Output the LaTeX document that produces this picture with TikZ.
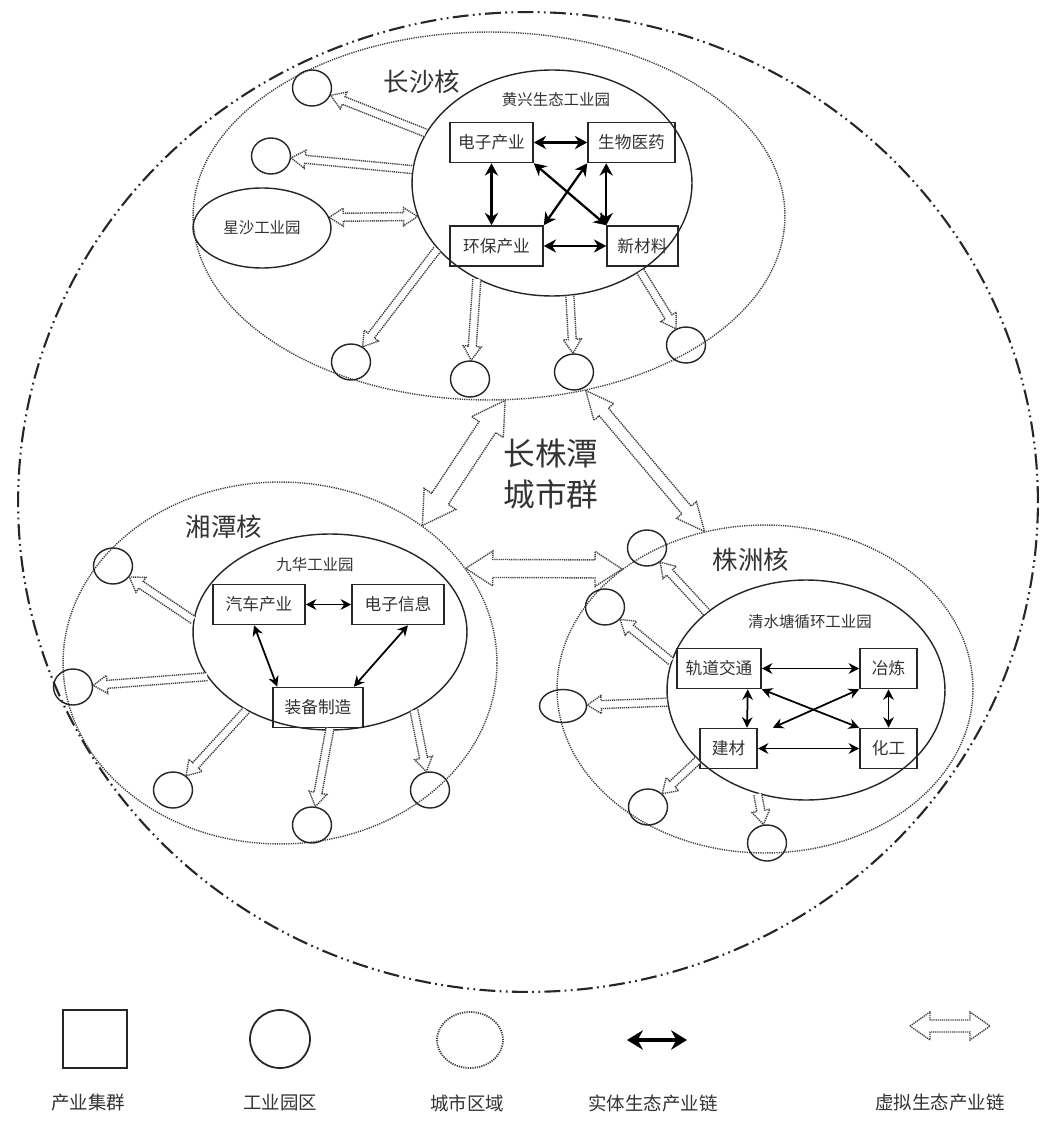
\documentclass[tikz,border=0pt]{standalone}
\usepackage{fontspec}
\setmainfont{Noto Sans CJK SC}
\usetikzlibrary{shapes.geometric,arrows.meta,calc}

% hollow arrow of the virtual chain
\newcommand{\vsetsize}[3]{\def\vsw{#1}\def\vhw{#2}\def\vhl{#3}}
\vsetsize{0.08cm}{0.18cm}{0.28cm}
\newcommand{\vlink}[2]{%
  \path (#1) -- (#2) coordinate[pos=0] (vA) coordinate[pos=1] (vB);
  \coordinate (vC) at ($(vB)!\vhl!(vA)$);
  \draw[virt] ($(vA)!\vsw!90:(vB)$) -- ($(vC)!\vsw!90:(vB)$) -- ($(vC)!\vhw!90:(vB)$) -- (vB)
    -- ($(vC)!\vhw!-90:(vB)$) -- ($(vC)!\vsw!-90:(vB)$) -- ($(vA)!\vsw!-90:(vB)$);
}
\newcommand{\vboth}[2]{%
  \path (#1) -- (#2) coordinate[pos=0] (vA) coordinate[pos=1] (vB);
  \coordinate (vC) at ($(vB)!\vhl!(vA)$);
  \coordinate (vD) at ($(vA)!\vhl!(vB)$);
  \draw[virt] (vA) -- ($(vD)!\vhw!90:(vB)$) -- ($(vD)!\vsw!90:(vB)$) -- ($(vC)!\vsw!90:(vB)$)
    -- ($(vC)!\vhw!90:(vB)$) -- (vB) -- ($(vC)!\vhw!-90:(vB)$) -- ($(vC)!\vsw!-90:(vB)$)
    -- ($(vD)!\vsw!-90:(vB)$) -- ($(vD)!\vhw!-90:(vB)$) -- cycle;
}

\begin{document}
\begin{tikzpicture}[x=0.02cm, y=-0.02cm,
    every node/.style={text=black!80},
    town/.style={ellipse, draw=black!75, line width=0.8pt, dash pattern=on 0.7pt off 0.6pt, inner sep=0pt},
    zone/.style={ellipse, draw=black!85, line width=0.8pt, inner sep=0pt},
    park/.style={ellipse, draw=black!85, line width=0.8pt, inner sep=0pt, minimum width=0.78cm, minimum height=0.72cm},
    trade/.style={draw=black!85, line width=0.9pt, inner sep=0pt, minimum height=0.8cm, font=\fontsize{9.5}{11}\selectfont},
    link/.style={line width=1.3pt, {Stealth[length=7pt,width=7.5pt]}-{Stealth[length=7pt,width=7.5pt]}},
    thinlink/.style={line width=1pt, {Stealth[length=6pt,width=6pt]}-{Stealth[length=6pt,width=6pt]}},
    virt/.style={draw=black!75, line width=0.8pt, dash pattern=on 0.7pt off 0.5pt, fill=white},
    corelab/.style={font=\fontsize{14.5}{15}\selectfont},
    zonelab/.style={font=\fontsize{8.8}{10}\selectfont},
    keylab/.style={font=\fontsize{10.5}{12}\selectfont}]
  \path[fill=white, use as bounding box] (0,0) rectangle (1045,1121);

  % city cluster
  \node[ellipse, draw=black!85, line width=1.2pt, inner sep=0pt, minimum width=20.4cm, minimum height=19.6cm,
    dash pattern=on 9pt off 2.5pt on 1pt off 2.5pt on 1pt off 2.5pt] (cluster) at (528,502) {};
  \node[align=center, font=\fontsize{18}{23}\selectfont] (clusterlab) at (551,474) {长株潭\\城市群};

  % Changsha
  \node[town, minimum width=11.84cm, minimum height=7.36cm] (cs) at (489,216) {};
  \node[zone, minimum width=5.6cm, minimum height=4.52cm] (hx) at (552,183) {};
  \node[corelab] (cslab) at (422,82) {长沙核};
  \node[zonelab] (hxlab) at (556,100) {黄兴生态工业园};
  \node[trade, minimum width=1.66cm] (dz) at (491.5,142.5) {电子产业};
  \node[trade, minimum width=1.74cm] (sw) at (631.5,142.5) {生物医药};
  \node[trade, minimum width=1.86cm] (hb) at (496.5,246) {环保产业};
  \node[trade, minimum width=1.42cm] (xc) at (642.5,246) {新材料};
  \node[zone, minimum width=2.76cm, minimum height=1.6cm, zonelab] (xs) at (262,228) {星沙工业园};

  % Xiangtan
  \node[town, minimum width=8.68cm, minimum height=7.24cm] (xt) at (280,663) {};
  \node[zone, minimum width=5.48cm, minimum height=3.92cm] (jh) at (330,632) {};
  \node[corelab] (xtlab) at (224,527) {湘潭核};
  \node[zonelab] (jhlab) at (315,565) {九华工业园};
  \node[trade, minimum width=1.84cm] (qc) at (259,604.5) {汽车产业};
  \node[trade, minimum width=1.84cm] (dx) at (398,604.5) {电子信息};
  \node[trade, minimum width=1.8cm] (zb) at (318,707.5) {装备制造};

  % Zhuzhou
  \node[town, minimum width=8.32cm, minimum height=6.56cm] (zz) at (765,689) {};
  \node[zone, minimum width=5.56cm, minimum height=4.4cm] (qs) at (806,690) {};
  \node[corelab] (zzlab) at (751,560) {株洲核};
  \node[zonelab] (qslab) at (810,622) {清水塘循环工业园};
  \node[trade, minimum width=1.68cm] (gd) at (719,668.5) {轨道交通};
  \node[trade, minimum width=1.14cm] (yl) at (888.5,668.5) {冶炼};
  \node[trade, minimum width=1.14cm] (jc) at (728.5,748.5) {建材};
  \node[trade, minimum width=1.14cm] (hg) at (888.5,748.5) {化工};

  % industrial parks
  \foreach \n/\x/\y in {cs1/312/88, cs2/271/156, cs3/351/362, cs4/470/379, cs5/574/372, cs6/686/345,
      xt1/113/566, xt2/73/687, xt3/173/790, xt4/312/825, xt5/430/790,
      zz1/647/548, zz2/605/607, zz4/648/807, zz5/767/843}
    \node[park] (\n) at (\x,\y) {};
  \node[park, minimum width=0.94cm, minimum height=0.66cm] (zz3) at (563,706) {};

  % solid chains
  \draw[link] (dz) -- (sw);
  \draw[link] (dz.south) -- (dz.south |- hb.north);
  \draw[link] (sw.south -| xc.north west) -- (xc.north west);
  \draw[link] (dz.south east) -- (xc.north west);
  \draw[link] (sw.south west) -- (hb.north east);
  \draw[link] (hb) -- (xc);

  \draw[thinlink] (qc) -- (dx);
  \draw[thinlink] ([xshift=-0.1cm]qc.south) -- ([xshift=0.1cm]zb.north west);
  \draw[thinlink] ([xshift=0.2cm]dx.south) -- ([xshift=-0.2cm]zb.north east);

  \draw[thinlink] (gd) -- (yl);
  \draw[thinlink] ([xshift=-0.28cm]gd.south east) -- ([xshift=0.37cm]jc.north);
  \draw[thinlink] (yl) -- (hg);
  \draw[thinlink] (jc) -- (hg);
  \draw[thinlink] (gd.south east) -- (hg.north west);
  \draw[thinlink] (yl.south west) -- ([xshift=0.3cm]jc.north east);

  % virtual chains
  \vlink{hx}{cs1}
  \vlink{hx}{cs2}
  \vboth{xs.9}{hx.194}
  \vlink{hx.210}{cs3}
  \vlink{hx.232}{cs4}
  \vlink{hx.279}{cs5}
  \vlink{hx.315}{cs6}

  \vlink{jh.175}{xt1}
  \vlink{jh.200}{xt2}
  \vlink{jh.223}{xt3}
  \vlink{zb.-60}{xt4}
  \vlink{jh.317}{xt5}

  \vlink{qs.142}{zz1}
  \vlink{qs.168}{zz2}
  \vlink{qs.185}{zz3}
  \vlink{qs.213}{zz4}
  \vlink{qs.245}{zz5}

  \vsetsize{0.2cm}{0.38cm}{0.64cm}
  \vboth{cs.275}{xt.44}
  \vsetsize{0.12cm}{0.26cm}{0.56cm}
  \vboth{cs.299}{zz.111}
  \vsetsize{0.18cm}{0.35cm}{0.54cm}
  \vboth{xt.27}{zz.140}

  % legend
  \node[draw=black!85, line width=1.1pt, minimum width=1.28cm, minimum height=1.16cm] (keybox) at (95,1039) {};
  \node[park, line width=1pt, minimum width=1.2cm, minimum height=1.16cm] (keypark) at (280,1039) {};
  \node[town, line width=1pt, minimum width=1.32cm, minimum height=1.12cm] (keytown) at (470,1040) {};
  \coordinate (keyr1) at (627,1040);
  \coordinate (keyr2) at (687,1040);
  \draw[line width=1.8pt, {Stealth[length=9pt,width=11pt]}-{Stealth[length=9pt,width=11pt]}] (keyr1) -- (keyr2);
  \coordinate (keyv1) at (910,1026);
  \coordinate (keyv2) at (990,1026);
  \vsetsize{0.12cm}{0.28cm}{0.4cm}
  \vboth{keyv1}{keyv2}
  \node[keylab] at (88,1103) {产业集群};
  \node[keylab] at (280,1103) {工业园区};
  \node[keylab] at (467,1103) {城市区域};
  \node[keylab] at (653,1103) {实体生态产业链};
  \node[keylab] at (940,1103) {虚拟生态产业链};
\end{tikzpicture}
\end{document}
